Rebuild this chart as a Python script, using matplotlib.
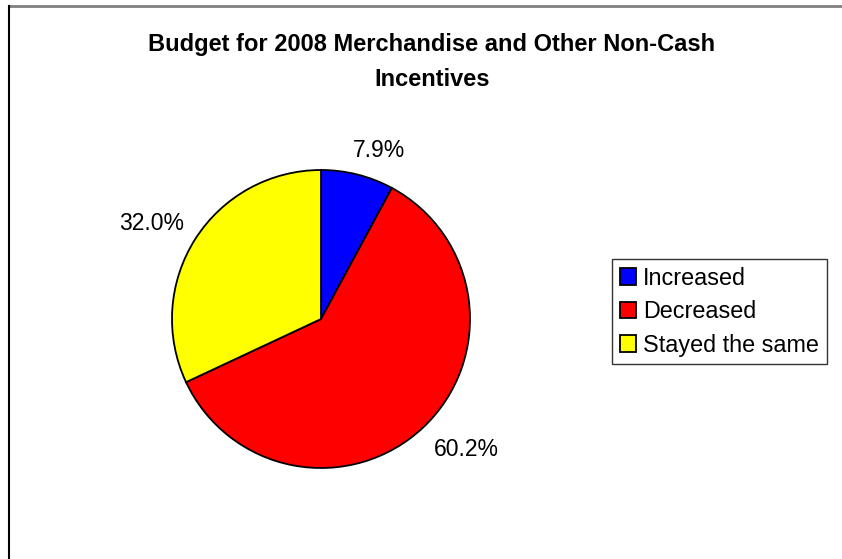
import matplotlib.pyplot as plt
import numpy as np

plt.rcParams['font.family'] = ['Liberation Sans', 'DejaVu Sans']

categories = ['Increased', 'Decreased', 'Stayed the same']
shares = [7.9, 60.2, 32.0]
colors = ['#0000FF', '#FF0000', '#FFFF00']
# where each percentage sits, in pixels away from the rim of its slice
label_offsets = [(21, 24), (43, -22), (-44, 16)]

W, H = 842, 559
fig = plt.figure(figsize=(W / 100, H / 100), dpi=100)

# chart area frame: grey top edge, black left edge
fig.add_artist(plt.Line2D([9 / W, 1], [1 - 6 / H, 1 - 6 / H], color='#808080', lw=2))
fig.add_artist(plt.Line2D([9 / W, 9 / W], [0, 1 - 6 / H], color='black', lw=1.5))

fig.text(432 / W, 1 - 45 / H, 'Budget for 2008 Merchandise and Other Non-Cash',
         ha='center', va='center', fontsize=17, fontweight='bold')
fig.text(432 / W, 1 - 80 / H, 'Incentives',
         ha='center', va='center', fontsize=17, fontweight='bold')

r = 149
cx, cy = 321, 319
ax = fig.add_axes([(cx - r) / W, (H - cy - r) / H, 2 * r / W, 2 * r / H])
wedges, _ = ax.pie(shares, colors=colors, startangle=90, counterclock=False,
                   radius=1, wedgeprops=dict(edgecolor='black', linewidth=1.3))
ax.set_xlim(-1, 1)
ax.set_ylim(-1, 1)

for w, v, off in zip(wedges, shares, label_offsets):
    ang = np.deg2rad((w.theta1 + w.theta2) / 2)
    ax.annotate(f'{v:.1f}%', xy=(np.cos(ang), np.sin(ang)), xytext=off,
                textcoords='offset pixels', ha='center', va='center', fontsize=16.5)

leg = fig.legend(wedges, categories, loc='upper left',
                 bbox_to_anchor=(612 / W, 1 - 259 / H), fontsize=16.8,
                 frameon=True, fancybox=False, handlelength=0.7, handleheight=0.7,
                 handletextpad=0.3, labelspacing=0.45, borderpad=0.33,
                 borderaxespad=0)
leg.get_frame().set_edgecolor('black')
leg.get_frame().set_linewidth(1)

fig.savefig('out.png', dpi=100)
